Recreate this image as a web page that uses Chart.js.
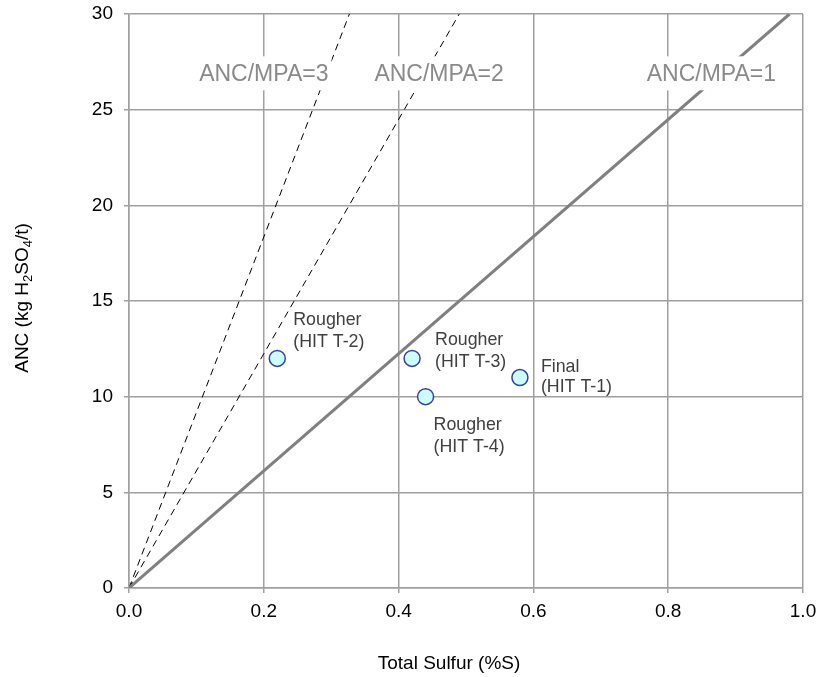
<!DOCTYPE html>
<html>
<head>
<meta charset="utf-8">
<script src="https://cdn.jsdelivr.net/npm/chart.js@4/dist/chart.umd.min.js"></script>
<style>
html,body{margin:0;padding:0;background:#fff;}
#wrap{width:819px;height:677px;position:relative;}
</style>
</head>
<body>
<div id="wrap"><canvas id="c" width="819" height="677"></canvas></div>
<script>
// ---- data ----
const xTicks = [0.0, 0.2, 0.4, 0.6, 0.8, 1.0];
const yTicks = [0, 5, 10, 15, 20, 25, 30];
const sampleNames = ["Final|(HIT T-1)", "Rougher|(HIT T-2)", "Rougher|(HIT T-3)", "Rougher|(HIT T-4)"];
const sampleSulfur = [0.58, 0.22, 0.42, 0.44];
const sampleANC = [11, 12, 12, 10];
const ratioNames = ["ANC/MPA=1", "ANC/MPA=2", "ANC/MPA=3"];
const ratioLineEndSulfur = [0.98, 0.49, 0.327];
const ratioLineEndANC = [30, 30, 30];
const ratioLabelSulfur = [0.864, 0.46, 0.2];
const ratioLabelANC = [26.9, 26.9, 26.9];

// ---- styles (kept separate from data) ----
const labelOffsets = [[21, -10, 10], [16, -38, -16], [23, -18, 4], [8, 28, 50]];
const FONT = 'Arial, "Liberation Sans", sans-serif';

const ratioStyles = [
  {borderColor:'#808080', borderWidth:3, borderDash:[]},
  {borderColor:'#000000', borderWidth:1, borderDash:[7,5]},
  {borderColor:'#000000', borderWidth:1, borderDash:[7,5]}
];

const datasets = ratioNames.map((n,i)=>({
  type:'line', label:n,
  data:[{x:0,y:0},{x:ratioLineEndSulfur[i], y:ratioLineEndANC[i]}],
  borderColor:ratioStyles[i].borderColor, borderWidth:ratioStyles[i].borderWidth,
  borderDash:ratioStyles[i].borderDash, pointRadius:0, fill:false, tension:0, order:2
}));
datasets.push({
  type:'scatter', label:'Samples',
  data: sampleSulfur.map((s,i)=>({x:s, y:sampleANC[i]})),
  backgroundColor:'#ccffff', borderColor:'#3340a8', borderWidth:1.5,
  pointRadius:8, pointHoverRadius:8, order:1
});

const overlay = {
  id:'overlay',
  afterDatasetsDraw(chart){
    const ctx = chart.ctx, xs = chart.scales.x, ys = chart.scales.y;
    ctx.save();
    // ratio line labels with white background
    ctx.font = '23px ' + FONT;
    ctx.textAlign = 'center'; ctx.textBaseline = 'middle';
    ratioNames.forEach((n,i)=>{
      const px = xs.getPixelForValue(ratioLabelSulfur[i]);
      const py = ys.getPixelForValue(ratioLabelANC[i]);
      const w = ctx.measureText(n).width;
      ctx.fillStyle = '#fff';
      ctx.fillRect(px - w/2 - 3, py - 17, w + 6, 34);
      ctx.fillStyle = '#8a8a8a';
      ctx.fillText(n, px, py + 1);
    });
    // sample labels
    ctx.font = '17.8px ' + FONT;
    ctx.textAlign = 'left'; ctx.fillStyle = '#404040';
    sampleNames.forEach((n,i)=>{
      const px = xs.getPixelForValue(sampleSulfur[i]);
      const py = ys.getPixelForValue(sampleANC[i]);
      const lines = n.split('|'); const o = labelOffsets[i];
      ctx.fillText(lines[0], px + o[0], py + o[1]);
      ctx.fillText(lines[1], px + o[0], py + o[2]);
    });
    ctx.restore();
  },
  afterDraw(chart){
    const ctx = chart.ctx;
    ctx.save();
    ctx.fillStyle = '#000';
    ctx.font = '19px ' + FONT;
    ctx.textAlign = 'center'; ctx.textBaseline = 'middle';
    ctx.fillText('Total Sulfur (%S)', 449, 664);
    // y title with subscripts, rotated
    ctx.translate(22, 298);
    ctx.rotate(-Math.PI/2);
    const parts = [['ANC (kg H',0],['2',1],['SO',0],['4',1],['/t)',0]];
    const big = '19px ' + FONT, small = '13px ' + FONT;
    let total = 0;
    parts.forEach(p=>{ ctx.font = p[1]?small:big; total += ctx.measureText(p[0]).width; });
    let x = -total/2;
    ctx.textAlign = 'left'; ctx.textBaseline = 'alphabetic';
    parts.forEach(p=>{
      ctx.font = p[1]?small:big;
      ctx.fillText(p[0], x, p[1] ? 10 : 6);
      x += ctx.measureText(p[0]).width;
    });
    ctx.restore();
  }
};

new Chart(document.getElementById('c'), {
  data:{datasets},
  options:{
    responsive:false, animation:false, devicePixelRatio:1,
    layout:{padding:{top:14, right:16, left:0, bottom:0}},
    plugins:{legend:{display:false}, tooltip:{enabled:false}},
    scales:{
      x:{type:'linear', min:0, max:1,
        afterBuildTicks(s){ s.ticks = xTicks.map(v=>({value:v})); },
        afterFit(s){ s.height = 89; s.paddingLeft = 0; s.paddingRight = 0; s.paddingTop = 0; s.paddingBottom = 0; },
        grid:{color:'#a0a0a0', lineWidth:1.5, tickLength:5, drawTicks:true},
        border:{color:'#a0a0a0', width:1.5},
        ticks:{color:'#000', font:{family:FONT, size:19}, padding:7,
          callback:(v)=>Number(v).toFixed(1), maxRotation:0}
      },
      y:{type:'linear', min:0, max:30,
        afterBuildTicks(s){ s.ticks = yTicks.map(v=>({value:v})); },
        afterFit(s){ s.width = 129; s.paddingLeft = 0; s.paddingRight = 0; s.paddingTop = 0; s.paddingBottom = 0; },
        grid:{color:'#a0a0a0', lineWidth:1.5, tickLength:5},
        border:{color:'#a0a0a0', width:1.5},
        ticks:{color:'#000', font:{family:FONT, size:19}, padding:11}
      }
    }
  },
  plugins:[overlay]
});
</script>
</body>
</html>
